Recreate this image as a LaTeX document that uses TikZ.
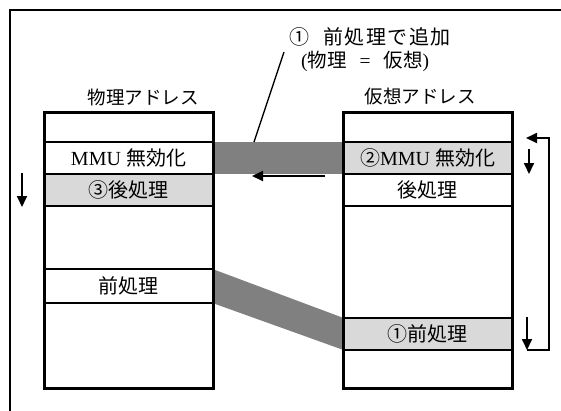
\documentclass[tikz,border=0pt]{standalone}
\usepackage{fontspec}
\setmainfont{Liberation Serif}
\newfontfamily\jp{Noto Sans CJK JP}
\usetikzlibrary{arrows.meta}
\begin{document}
\begin{tikzpicture}[x=1pt,y=-1pt,
  ttl/.style={font=\fontsize{18.5}{19}\selectfont, inner sep=0pt},
  rowbox/.style={draw, line width=1.5pt, minimum width=169pt, inner sep=0pt,
    font=\fontsize{20}{20}\selectfont},
  hl/.style={fill=black!15},
  membox/.style={draw, line width=3pt, minimum width=169pt, minimum height=276pt, inner sep=0pt},
  band/.style={fill=black!50, draw=none},
  arr/.style={line width=1.8pt, -{Triangle[length=11pt,width=10pt]}},
  plain/.style={line width=1.6pt}
]
\useasboundingbox (0,0) rectangle (561,410);

% outer frame
\coordinate (fbl) at (10,412);
\coordinate (ftl) at (10,10);
\coordinate (ftr) at (563,10);
\draw[plain] (fbl) -- (ftl) -- (ftr);

% titles and note
\node[ttl] (tphys) at (143,97) {\jp 物理アドレス};
\node[ttl] (tvirt) at (420,97) {\jp 仮想アドレス};
\node[font=\fontsize{20}{20}\selectfont, inner sep=0pt, anchor=west] (note1) at (289,37)
  {\jp ①\hspace{14pt}前\kern1.5pt 処\kern1.5pt 理\kern1.5pt で\kern1.5pt 追\kern1.5pt 加};
\node[font=\fontsize{19.5}{20}\selectfont, inner sep=0pt, anchor=west] (note2) at (301,61)
  {({\jp 物理}\hspace{13pt}=\hspace{13pt}{\jp 仮想})};

% gray bands
\fill[band] (212.5,142) rectangle (343.5,174);
\fill[band] (212.5,269) -- (343.5,318) -- (343.5,350) -- (212.5,303) -- cycle;

% left rows
\node[rowbox, minimum height=32pt] (lmmu) at (128.5,158) {MMU {\jp 無効化}};
\node[rowbox, hl, minimum height=32pt] (lpost) at (128.5,190) {\jp ③後処理};
\node[rowbox, minimum height=34pt] (lpre) at (128.5,286) {\jp 前処理};

% right rows
\node[rowbox, hl, minimum height=32pt] (rmmu) at (427.5,158) {{\jp ②}MMU {\jp 無効化}};
\node[rowbox, minimum height=32pt] (rpost) at (427.5,190) {\jp 後処理};
\node[rowbox, hl, minimum height=32pt] (rpre) at (427.5,334) {\jp ①前処理};

% memory boxes
\node[membox] (lbox) at (128.5,250) {};
\node[membox] (rbox) at (427.5,250) {};

% note leader line
\coordinate (leadtop) at (284,52);
\coordinate (leadbot) at (254,142);
\draw[line width=1.4pt] (leadtop) -- (leadbot);

% horizontal arrow
\coordinate (hstart) at (325,176);
\coordinate (hend) at (252,176);
\draw[arr] (hstart) -- (hend);

% left down arrow
\coordinate (ldA) at (22,173);
\coordinate (ldB) at (22,207);
\draw[arr] (ldA) -- (ldB);

% right loop
\coordinate (rlA) at (527,317);
\coordinate (rlB) at (527,350);
\coordinate (rlC) at (549,350);
\coordinate (rlD) at (549,138);
\coordinate (rlE) at (526,138);
\draw[arr] (rlA) -- (rlB);
\draw[arr] (rlB) -- (rlC) -- (rlD) -- (rlE);
\coordinate (rdA) at (529,149);
\coordinate (rdB) at (529,174);
\draw[arr] (rdA) -- (rdB);
\end{tikzpicture}
\end{document}
